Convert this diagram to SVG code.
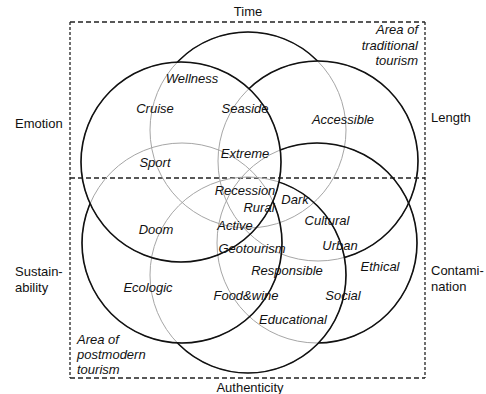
<svg xmlns="http://www.w3.org/2000/svg" width="486" height="394" viewBox="0 0 486 394">
  <style>
    .hidden { fill: none; stroke: #a6a6a6; stroke-width: 1; }
    .rim { fill: none; stroke: #111; stroke-width: 1.6; }
    .frame { fill: none; stroke: #222; stroke-width: 1.3; }
    .h { stroke-dasharray: 5 3; }
    .v { stroke-dasharray: 3 2; }
    text { font-family: "Liberation Sans", Arial, Helvetica, sans-serif; font-size: 13px; fill: #111; }
    .it { font-style: italic; text-anchor: middle; }
  </style>
  <defs>
    <!-- the six dimension circles -->
    <circle id="cT" cx="248" cy="130" r="98"/>
    <circle id="cE" cx="181" cy="162" r="100"/>
    <circle id="cL" cx="318" cy="161" r="100"/>
    <circle id="cS" cx="182" cy="243" r="100"/>
    <circle id="cC" cx="317" cy="243" r="100"/>
    <circle id="cA" cx="248" cy="275" r="98"/>
    <!-- a rim turns grey where it runs behind the circles listed in its mask -->
    <mask id="behindT" maskUnits="userSpaceOnUse" x="0" y="0" width="486" height="394">
      <rect width="486" height="394" fill="#fff"/>
      <use href="#cE" fill="#000"/><use href="#cL" fill="#000"/>
    </mask>
    <mask id="behindL" maskUnits="userSpaceOnUse" x="0" y="0" width="486" height="394">
      <rect width="486" height="394" fill="#fff"/>
      <use href="#cE" fill="#000"/><use href="#cA" fill="#000"/>
    </mask>
    <mask id="behindS" maskUnits="userSpaceOnUse" x="0" y="0" width="486" height="394">
      <rect width="486" height="394" fill="#fff"/>
      <use href="#cE" fill="#000"/>
    </mask>
    <mask id="behindC" maskUnits="userSpaceOnUse" x="0" y="0" width="486" height="394">
      <rect width="486" height="394" fill="#fff"/>
      <use href="#cE" fill="#000"/><use href="#cA" fill="#000"/>
    </mask>
    <mask id="behindA" maskUnits="userSpaceOnUse" x="0" y="0" width="486" height="394">
      <rect width="486" height="394" fill="#fff"/>
      <use href="#cE" fill="#000"/><use href="#cS" fill="#000"/>
    </mask>
  </defs>

  <rect width="486" height="394" fill="#fff"/>

  <!-- dashed frame and the divider between the two areas -->
  <g id="frame">
    <line class="frame h" x1="70" y1="22" x2="425" y2="22"/>
    <line class="frame h" x1="70" y1="378" x2="425" y2="378"/>
    <line class="frame h" x1="70" y1="178" x2="425" y2="178"/>
    <line class="frame v" x1="70" y1="22" x2="70" y2="378"/>
    <line class="frame v" x1="425" y1="22" x2="425" y2="378"/>
  </g>

  <!-- hidden (grey) course of every circle -->
  <g id="hidden-arcs">
    <use href="#cT" class="hidden"/>
    <use href="#cE" class="hidden"/>
    <use href="#cL" class="hidden"/>
    <use href="#cS" class="hidden"/>
    <use href="#cC" class="hidden"/>
    <use href="#cA" class="hidden"/>
  </g>

  <g id="time">
    <use href="#cT" class="rim" mask="url(#behindT)"/>
    <text x="248" y="16" text-anchor="middle">Time</text>
  </g>
  <g id="length">
    <use href="#cL" class="rim" mask="url(#behindL)"/>
    <text x="431" y="122">Length</text>
  </g>
  <g id="contamination">
    <use href="#cC" class="rim" mask="url(#behindC)"/>
    <text x="431" y="275">Contami-</text>
    <text x="431" y="291">nation</text>
  </g>
  <g id="authenticity">
    <use href="#cA" class="rim" mask="url(#behindA)"/>
    <text x="250" y="392" text-anchor="middle">Authenticity</text>
  </g>
  <g id="sustainability">
    <use href="#cS" class="rim" mask="url(#behindS)"/>
    <text x="15" y="276">Sustain-</text>
    <text x="15" y="292">ability</text>
  </g>
  <g id="emotion">
    <use href="#cE" class="rim"/>
    <text x="15" y="128">Emotion</text>
  </g>

  <!-- area captions -->
  <g id="area-traditional">
    <text class="it" x="418" y="34" text-anchor="end" style="text-anchor:end">Area of</text>
    <text class="it" x="418" y="50" style="text-anchor:end">traditional</text>
    <text class="it" x="418" y="65" style="text-anchor:end">tourism</text>
  </g>
  <g id="area-postmodern">
    <text class="it" x="77" y="344" style="text-anchor:start">Area of</text>
    <text class="it" x="77" y="359" style="text-anchor:start">postmodern</text>
    <text class="it" x="77" y="374" style="text-anchor:start">tourism</text>
  </g>

  <!-- forms of tourism placed in the overlaps -->
  <g id="forms">
    <text class="it" x="192" y="83">Wellness</text>
    <text class="it" x="155" y="113">Cruise</text>
    <text class="it" x="245" y="113">Seaside</text>
    <text class="it" x="343" y="124">Accessible</text>
    <text class="it" x="155" y="167">Sport</text>
    <text class="it" x="245" y="158">Extreme</text>
    <text class="it" x="245" y="195">Recession</text>
    <text class="it" x="259" y="212">Rural</text>
    <text class="it" x="295" y="204">Dark</text>
    <text class="it" x="156" y="234">Doom</text>
    <text class="it" x="235" y="230">Active</text>
    <text class="it" x="327" y="225">Cultural</text>
    <text class="it" x="252" y="253">Geotourism</text>
    <text class="it" x="340" y="250">Urban</text>
    <text class="it" x="380" y="271">Ethical</text>
    <text class="it" x="287" y="275">Responsible</text>
    <text class="it" x="148" y="292">Ecologic</text>
    <text class="it" x="246" y="300">Food&amp;wine</text>
    <text class="it" x="343" y="300">Social</text>
    <text class="it" x="293" y="324">Educational</text>
  </g>
</svg>
